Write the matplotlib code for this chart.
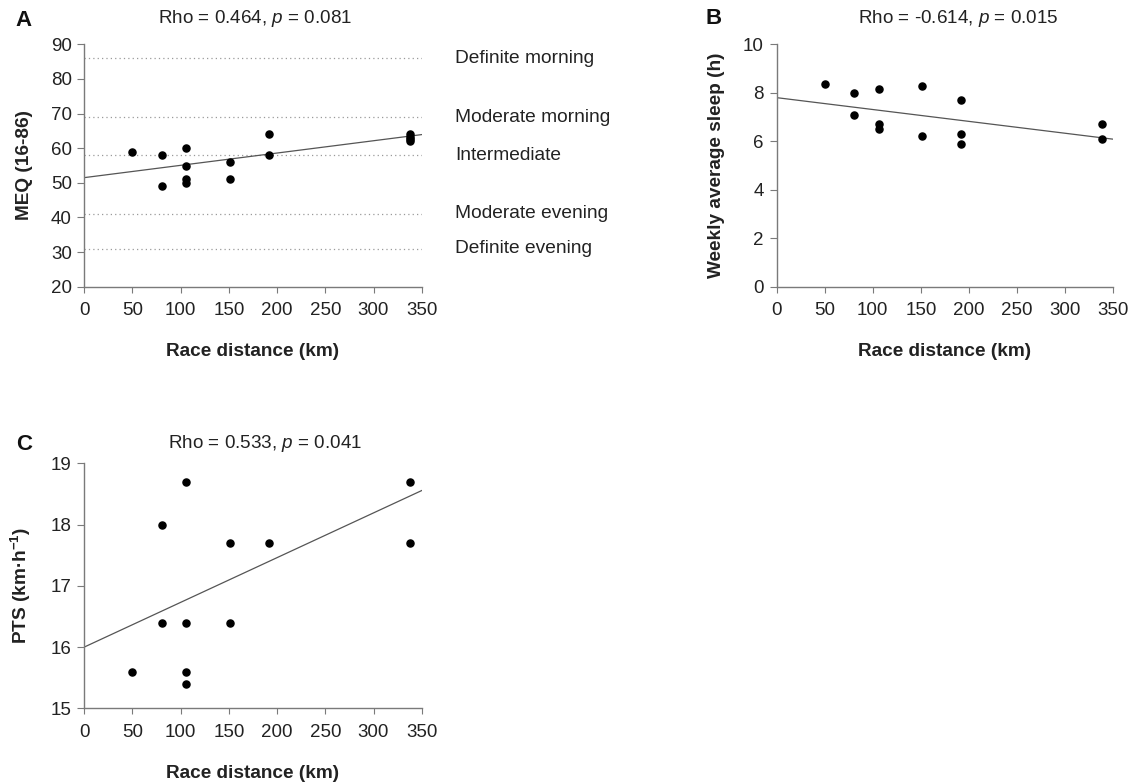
import matplotlib
matplotlib.use("Agg")
import matplotlib.pyplot as plt
import numpy as np

plt.rcParams['font.family'] = ['Liberation Sans', 'DejaVu Sans']
plt.rcParams['mathtext.fontset'] = 'custom'
plt.rcParams['mathtext.rm'] = 'Liberation Sans'
plt.rcParams['mathtext.it'] = 'Liberation Sans:italic'
plt.rcParams['mathtext.bf'] = 'Liberation Sans:bold'

# panel A: morningness-eveningness questionnaire
dist_a = [50, 81, 81, 106, 106, 106, 106, 151, 151, 192, 192, 338, 338, 338, 338]
meq = [59, 58, 49, 60, 55, 51, 50, 56, 51, 64, 58, 64, 63.3, 62.6, 62]
fit_a = (51.5, 0.0355)          # intercept, slope of the drawn trend line
chrono_levels = [86, 69, 58, 41, 31]
chrono_labels = ["Definite morning", "Moderate morning", "Intermediate",
                 "Moderate evening", "Definite evening"]

# panel B: weekly average sleep
dist_b = [50, 81, 81, 106, 106, 106, 151, 151, 192, 192, 192, 338, 338]
sleep = [8.35, 8.0, 7.1, 8.15, 6.7, 6.5, 8.3, 6.2, 7.7, 6.3, 5.9, 6.7, 6.1]
fit_b = (7.8, -0.0049)

# panel C: pace
dist_c = [50, 81, 81, 106, 106, 106, 106, 151, 151, 192, 338, 338]
pts = [15.6, 18.0, 16.4, 18.7, 16.4, 15.6, 15.4, 17.7, 16.4, 17.7, 18.7, 17.7]
fit_c = (16.0, 0.0073)

xticks = [0, 50, 100, 150, 200, 250, 300, 350]

W, H = 1140, 782
fig = plt.figure(figsize=(W / 100, H / 100), dpi=100)


def px_axes(left, top, right, bottom):
    return fig.add_axes([left / W, 1 - bottom / H, (right - left) / W, (bottom - top) / H])


def style(ax, ylim, yticks, ylabel, title, tx, ty):
    ax.set_xlim(0, 350)
    ax.set_ylim(*ylim)
    ax.set_xticks(xticks)
    ax.set_yticks(yticks)
    for s in ['top', 'right']:
        ax.spines[s].set_visible(False)
    for s in ['left', 'bottom']:
        ax.spines[s].set_color('#7a7a7a')
        ax.spines[s].set_linewidth(1.0)
    ax.tick_params(axis='x', length=4, width=0.8, color='#7a7a7a', pad=7,
                   labelsize=13.5, labelcolor='#222222')
    ax.tick_params(axis='y', length=5, width=0.8, color='#7a7a7a', pad=4,
                   labelsize=13.5, labelcolor='#222222')
    ax.set_xlabel("Race distance (km)", fontsize=13.7, fontweight='bold', color='#222222')
    ax.xaxis.set_label_coords(0.5, -0.232)
    ax.set_ylabel(ylabel, fontsize=13.7, fontweight='bold', color='#222222')
    ax.yaxis.set_label_coords(-0.153, 0.5)
    ax.text(tx, ty, title, transform=ax.transAxes, ha='center', va='center',
            fontsize=13.6, color='#222222')


def trend(ax, fit):
    xs = np.array([0, 350])
    ax.plot(xs, fit[0] + fit[1] * xs, color='#555555', lw=0.9, zorder=2)


# A
ax_a = px_axes(84.3, 44.3, 421.7, 286.7)
for lvl, lab in zip(chrono_levels, chrono_labels):
    ax_a.plot([0, 350], [lvl, lvl], color='#9a9a9a', lw=0.9, ls=(0, (1, 2.5)), zorder=1)
    ax_a.text(385, lvl, lab, ha='left', va='center', fontsize=13.8,
              color='#222222', clip_on=False)
trend(ax_a, fit_a)
ax_a.scatter(dist_a, meq, s=26, color='black', zorder=3, clip_on=False)
style(ax_a, (20, 90), range(20, 91, 10), "MEQ (16-86)",
      r"Rho = 0.464, $p$ = 0.081", 0.506, 1.108)

# B
ax_b = px_axes(776.5, 44.3, 1113.3, 286.7)
trend(ax_b, fit_b)
ax_b.scatter(dist_b, sleep, s=26, color='black', zorder=3, clip_on=False)
style(ax_b, (0, 10), range(0, 11, 2), "Weekly average sleep (h)",
      r"Rho = -0.614, $p$ = 0.015", 0.539, 1.108)

# C
ax_c = px_axes(84.3, 463.3, 421.7, 708.3)
trend(ax_c, fit_c)
ax_c.scatter(dist_c, pts, s=26, color='black', zorder=3, clip_on=False)
style(ax_c, (15, 19), range(15, 20), r"PTS (km·h$^{\mathbf{-1}}$)",
      r"Rho = 0.533, $p$ = 0.041", 0.535, 1.082)

for lab, x, y in [("A", 24, 20), ("B", 714, 19), ("C", 24, 444)]:
    fig.text(x / W, 1 - y / H, lab, ha='center', va='center',
             fontsize=16, fontweight='bold', color='#111111')

fig.savefig("out.png", dpi=100)
